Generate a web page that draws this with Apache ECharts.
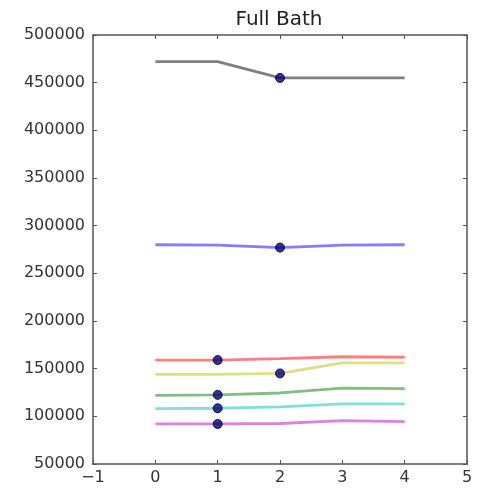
<!DOCTYPE html>
<html>
<head>
<meta charset="utf-8">
<script src="https://cdn.jsdelivr.net/npm/echarts@6/dist/echarts.min.js"></script>
<style>
  html, body { margin: 0; padding: 0; background: #fff; }
  #chart { width: 487px; height: 491px; }
</style>
</head>
<body>
<div id="chart"></div>
<script>
// Sale price trend by number of full baths, one line per group
const xs = [0, 1, 2, 3, 4];
const blackVals   = [472000, 472000, 455000, 455000, 455000];
const blueVals    = [280000, 279500, 277000, 279500, 280000];
const redVals     = [159000, 159000, 160500, 162500, 162000];
const yellowVals  = [144000, 144000, 145000, 156000, 156000];
const greenVals   = [122000, 122500, 124500, 129500, 129000];
const cyanVals    = [108000, 108500, 110000, 113000, 113000];
const magentaVals = [92000, 92000, 92500, 95500, 94500];

// index along x where each group's highlighted point sits
const lineNames  = ['k', 'b', 'r', 'y', 'g', 'c', 'm'];
const lineColors = ['rgba(0,0,0,0.5)', 'rgba(0,0,255,0.5)', 'rgba(255,0,0,0.5)',
                    'rgba(191,191,0,0.5)', 'rgba(0,128,0,0.5)', 'rgba(0,191,191,0.5)',
                    'rgba(191,0,191,0.5)'];
const lineValues = [blackVals, blueVals, redVals, yellowVals, greenVals, cyanVals, magentaVals];
const markIndex  = [2, 2, 1, 2, 1, 1, 1];

const xTicks = [-1, 0, 1, 2, 3, 4, 5];
const yMin = 50000, yMax = 500000, yStep = 50000;

const chart = echarts.init(document.getElementById('chart'), null, { renderer: 'canvas' });

const tickFont = { fontFamily: 'DejaVu Sans', fontSize: 16, color: '#333' };
const frame = { show: true, onZero: false, lineStyle: { color: '#555', width: 1.5 } };
const inTick = { show: true, inside: true, length: 4, lineStyle: { color: '#555', width: 1 } };
const plainNum = v => (v < 0 ? '\u2212' + Math.abs(v) : String(v));

const series = [];
lineValues.forEach((vals, i) => {
  series.push({
    name: lineNames[i],
    type: 'line',
    data: xs.map((x, j) => [x, vals[j]]),
    showSymbol: false,
    lineStyle: { color: lineColors[i], width: 2.8 },
    z: 2
  });
});
series.push({
  name: 'points',
  type: 'scatter',
  symbolSize: 9,
  data: lineValues.map((vals, i) => [xs[markIndex[i]], vals[markIndex[i]]]),
  itemStyle: { color: '#00008b', borderColor: '#000', borderWidth: 1 },
  z: 5
});

chart.setOption({
  animation: false,
  backgroundColor: '#fff',
  title: {
    text: 'Full Bath',
    left: 274, top: 5, textAlign: 'center',
    textStyle: { fontFamily: 'DejaVu Sans', fontSize: 20, fontWeight: 'normal', color: '#222' }
  },
  grid: { left: 93, top: 35, right: 20, bottom: 27, containLabel: false },
  xAxis: [
    {
      type: 'value', min: xTicks[0], max: xTicks[xTicks.length - 1], interval: 1,
      axisLine: frame, axisTick: inTick, splitLine: { show: false },
      axisLabel: Object.assign({ margin: 6, formatter: plainNum }, tickFont)
    },
    {
      type: 'value', position: 'top', min: xTicks[0], max: xTicks[xTicks.length - 1], interval: 1,
      axisLine: frame, axisTick: inTick, splitLine: { show: false },
      axisLabel: { show: false }
    }
  ],
  yAxis: [
    {
      type: 'value', min: yMin, max: yMax, interval: yStep,
      axisLine: frame, axisTick: inTick, splitLine: { show: false },
      axisLabel: Object.assign({ margin: 8, formatter: plainNum }, tickFont)
    },
    {
      type: 'value', position: 'right', min: yMin, max: yMax, interval: yStep,
      axisLine: frame, axisTick: inTick, splitLine: { show: false },
      axisLabel: { show: false }
    }
  ],
  series: series
});
</script>
</body>
</html>
